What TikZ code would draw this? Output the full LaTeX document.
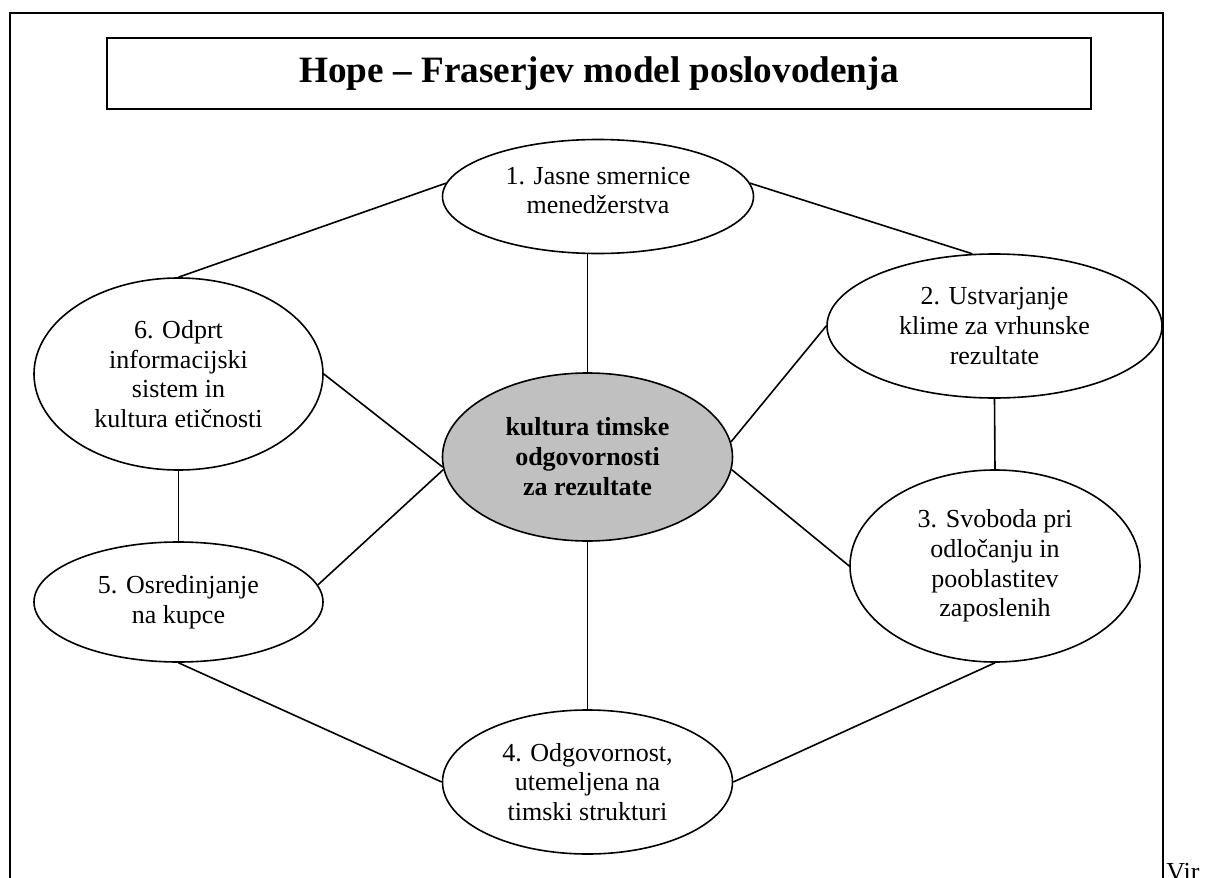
\documentclass[tikz,border=0pt]{standalone}
\usepackage{fontspec}
\setmainfont{Liberation Serif}
\usetikzlibrary{shapes.geometric}
\definecolor{cgray}{RGB}{192,192,192}
\begin{document}
\begin{tikzpicture}[x=0.5pt,y=-0.5pt,
  bubble/.style={draw,ellipse,line width=0.8pt,inner sep=0pt,align=center,
    font=\fontsize{13}{14.8}\selectfont},
  link/.style={line width=0.8pt},
  frame/.style={line width=1pt}]
\useasboundingbox (0,0) rectangle (1211,878);
\clip (0,0) rectangle (1211,878);
% outer frame (open at bottom)
\draw[frame] (10,890) -- (10,13) -- (1163,13) -- (1163,890);
% title
\node[draw,frame,minimum width=492pt,minimum height=35.5pt,inner sep=0pt,
  font=\fontsize{18.6}{22}\selectfont\bfseries] (title) at (599,73.5)
  {Hope – Fraserjev model poslovodenja};
% nodes
\node[bubble,minimum width=155.5pt,minimum height=57pt] (e1) at (598,196.5)
  {1. Jasne smernice\\menedžerstva\rule[-6pt]{0pt}{0pt}};
\node[bubble,minimum width=167.5pt,minimum height=72pt] (e2) at (994.5,326)
  {2. Ustvarjanje\\klime za vrhunske\\rezultate};
\node[bubble,minimum width=145pt,minimum height=96pt] (e3) at (995,566)
  {3. Svoboda pri\\odločanju in\\pooblastitev\\zaposlenih};
\node[bubble,minimum width=145pt,minimum height=72pt] (e4) at (587.5,782)
  {4. Odgovornost,\\utemeljena na\\timski strukturi};
\node[bubble,minimum width=144.5pt,minimum height=60pt] (e5) at (178.5,602)
  {5. Osredinjanje\\na kupce};
\node[bubble,minimum width=144.5pt,minimum height=96pt] (e6) at (178.5,374)
  {6. Odprt\\informacijski\\sistem in\\kultura etičnosti};
\node[bubble,fill=cgray,minimum width=145pt,minimum height=84pt,
  font=\fontsize{13}{15}\selectfont\bfseries] (c) at (587.5,457)
  {kultura timske\\odgovornosti\\za rezultate};
% connectors
\draw[link] (e1.175) -- (e6.north);
\draw[link] (e1.5) -- (e2.107);
\draw[link] (c.north) -- (c.north |- e1.south);
\draw[link] (e2.west) -- (c.6);
\draw[link] (e2.south) -- (e3.north);
\draw[link] (e3.west) -- (c.-5);
\draw[link] (e3.south) -- (e4.east);
\draw[link] (e4.north) -- (c.south);
\draw[link] (e5.south) -- (e4.west);
\draw[link] (e5.7) -- (c.185);
\draw[link] (e6.east) -- (c.184);
\draw[link] (e6.south) -- (e5.north);
% clipped note at bottom right
\node[anchor=base west,inner sep=0pt,font=\fontsize{13}{15}\selectfont] (vir) at (1166,880) {Vir};
\end{tikzpicture}
\end{document}
